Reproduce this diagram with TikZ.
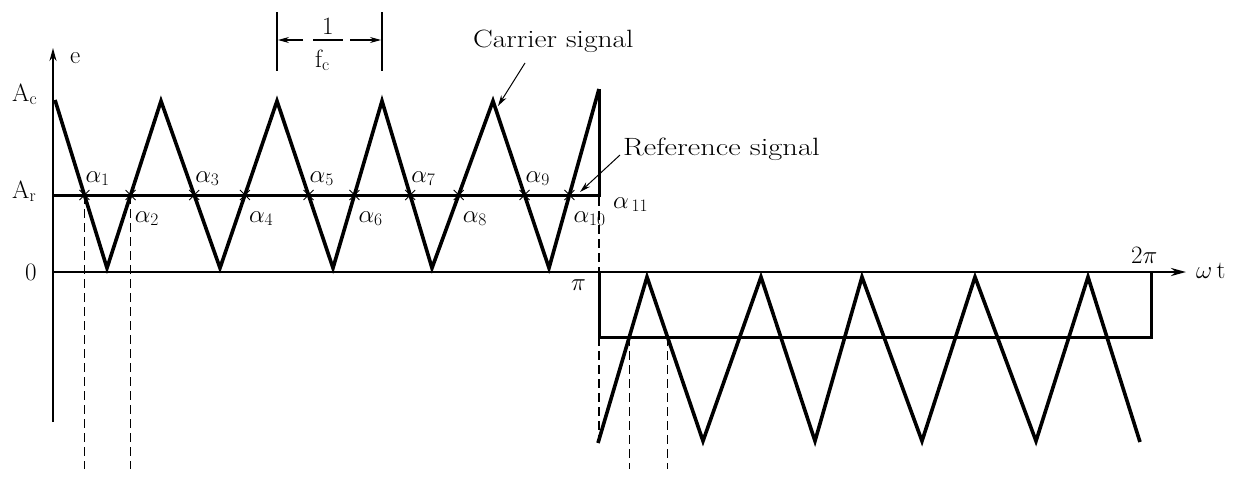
\RequirePackage{fix-cm}
\documentclass[tikz,border=0pt]{standalone}
\usepackage{fontspec}
\usetikzlibrary{arrows.meta,intersections,calc}
\begin{document}
\begin{tikzpicture}[x=1pt,y=-1pt,
  every node/.style={inner sep=0pt,font=\fontsize{25}{29}\selectfont},
  lbl/.style={anchor=base west},
  carrier/.style={line width=3.6pt,line join=miter},
  refsig/.style={line width=3pt,line join=miter},
  axisline/.style={line width=1.8pt},
  zeroline/.style={line width=2.6pt},
  guide/.style={line width=1.4pt,dash pattern=on 9pt off 5pt},
  crossmark/.style={line width=0.9pt},
  dimline/.style={line width=1.2pt},
  callout/.style={line width=1pt,-{Stealth[length=11pt,width=6pt]}},
  dimarrow/.style={line width=1.1pt,-{Stealth[length=11pt,width=6pt]}}
]
\useasboundingbox (0,0) rectangle (1235,477);
\coordinate (bot) at (0,469);

% invisible paths for crossings
\path[name path=car1] (55,100) -- (107,268) -- (161,101) -- (220,268) -- (277,101) -- (333,268) -- (382,101) -- (432,268) -- (493,101) -- (549,268) -- (599,89);
\path[name path=ref1] (53,195) -- (597,195);
\path[name path=car2] (598,443) -- (647,277) -- (703,441) -- (761,277) -- (815,441) -- (862,277) -- (922,441) -- (975,277) -- (1036,441) -- (1088,277) -- (1140,442);
\path[name path=ref2] (600,337) -- (1150,337);
\path[name intersections={of=car1 and ref1,name=i,sort by=car1}];
\path[name intersections={of=car2 and ref2,name=j,sort by=car2}];

% dashed guides
\draw[guide] (i-1) -- (i-1 |- bot);
\draw[guide] (i-2) -- (i-2 |- bot);
\draw[guide] (j-1) -- (j-1 |- bot);
\draw[guide] (j-2) -- (j-2 |- bot);
\draw[guide] (599,197) -- (599,272);
\draw[guide] (599,337) -- (599,440);

% axes
\draw[axisline,-{Stealth[length=13pt,width=7pt]}] (53,422) -- (53,48);
\draw[zeroline,-{Stealth[length=15pt,width=8pt]}] (53,272) -- (1186,272);

% reference signal
\draw[refsig] (53,195) -- (599,195) -- (599,89);
\draw[refsig] (599,272) -- (599,337) -- (1151,337) -- (1151,272);

% carrier signal
\draw[carrier] (55,100) -- (107,268) -- (161,101) -- (220,268) -- (277,101) -- (333,268) -- (382,101) -- (432,268) -- (493,101) -- (549,268) -- (599,89);
\draw[carrier] (598,443) -- (647,277) -- (703,441) -- (761,277) -- (815,441) -- (862,277) -- (922,441) -- (975,277) -- (1036,441) -- (1088,277) -- (1140,442);

% crossing marks and alpha labels
\foreach \k in {1,...,10}{
  \draw[crossmark] ($(i-\k)+(-5,-5)$) -- ($(i-\k)+(5,5)$);
  \draw[crossmark] ($(i-\k)+(-5,5)$) -- ($(i-\k)+(5,-5)$);
}
\foreach \k in {1,3,5,7,9}
  \node[lbl] (al\k) at ($(i-\k)+(1,-13)$) {$\alpha_{\k}$};
\foreach \k in {2,4,6,8,10}
  \node[lbl] (al\k) at ($(i-\k)+(4,27)$) {$\alpha_{\k}$};
\node[lbl] (al11) at (613,208) {$\alpha_{\,11}$};

% axis labels
\node[lbl] (elbl) at (70,63) {e};
\node[lbl] (aclbl) at (12,101) {$\mathrm{A}_\mathrm{c}$};
\node[lbl] (arlbl) at (12,198) {$\mathrm{A}_\mathrm{r}$};
\node[lbl] (zerolbl) at (25,280) {0};
\node[lbl] (pilbl) at (571,290) {$\pi$};
\node[lbl] (twopilbl) at (1131,263) {$2\pi$};
\node[lbl] (wtlbl) at (1196,278) {$\omega\,\mathrm{t}$};

% period dimension 1/fc
\draw[dimline] (277,12) -- (277,71);
\draw[dimline] (382,12) -- (382,71);
\node[lbl] (onelbl) at (322,34) {1};
\node[lbl] (fclbl) at (315,67) {$\mathrm{f}_\mathrm{c}$};
\coordinate (barl) at (313,40);
\coordinate (barr) at (343,40);
\draw[line width=1.1pt] (barl) -- (barr);
\coordinate (dl0) at (303,40);
\coordinate (dl1) at (278,40);
\coordinate (dr0) at (350,40);
\coordinate (dr1) at (381,40);
\draw[dimarrow] (dl0) -- (dl1);
\draw[dimarrow] (dr0) -- (dr1);

% callouts
\node[lbl] (carlbl) at (473,47) {\scalebox{1.18}[1]{Carrier signal}};
\coordinate (ca0) at (525,63);
\coordinate (ca1) at (498,106);
\draw[callout] (ca0) -- (ca1);
\node[lbl] (reflbl) at (623,155) {\scalebox{1.22}[1]{Reference signal}};
\coordinate (ra0) at (620,155);
\coordinate (ra1) at (580,192);
\draw[callout] (ra0) -- (ra1);
\end{tikzpicture}
\end{document}
